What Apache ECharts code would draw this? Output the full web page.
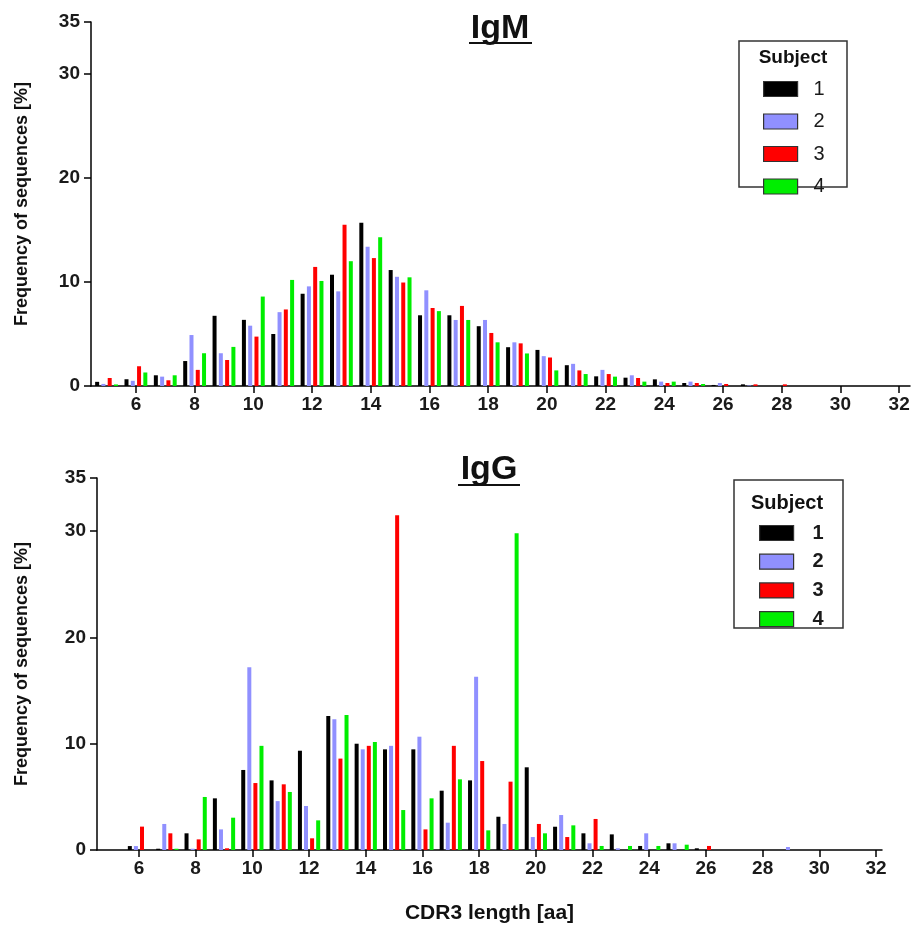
<!DOCTYPE html>
<html><head><meta charset="utf-8">
<script src="https://cdn.jsdelivr.net/npm/echarts@6/dist/echarts.min.js"></script>
<style>html,body{margin:0;padding:0;background:#fff}#c{width:914px;height:932px}</style>
</head><body><div id="c"></div>
<script>
// ---- data ----
const lengths = [5,6,7,8,9,10,11,12,13,14,15,16,17,18,19,20,21,22,23,24,25,26,27,28,29,30,31,32];
const xTickValues = [6,8,10,12,14,16,18,20,22,24,26,28,30,32];
const yTickValues = [0,10,20,30,35];
const subjects = ['1','2','3','4'];
const subjectColors = ['#000000','#9090ff','#ff0000','#00ee00'];

// IgM, frequency of sequences [%], per CDR3 length
const igmS1 = [0.4,0.65,1.03,2.4,6.75,6.36,5.0,8.87,10.7,15.7,11.15,6.8,6.8,5.75,3.73,3.47,2.0,0.93,0.8,0.64,0.29,0.1,0.16,0,0,0,0,0];
const igmS2 = [0.2,0.5,0.9,4.9,3.15,5.8,7.1,9.58,9.1,13.4,10.5,9.2,6.35,6.35,4.2,2.87,2.13,1.55,1.03,0.42,0.42,0.29,0.05,0,0,0,0,0];
const igmS3 = [0.77,1.9,0.55,1.55,2.5,4.75,7.36,11.45,15.5,12.3,9.95,7.5,7.7,5.1,4.1,2.74,1.5,1.15,0.77,0.29,0.29,0.19,0.16,0.16,0,0,0,0];
const igmS4 = [0.15,1.3,1.03,3.15,3.76,8.6,10.2,10.1,12.0,14.3,10.45,7.2,6.35,4.2,3.13,1.5,1.15,0.9,0.42,0.42,0.19,0,0,0,0,0,0,0];

// IgG
const iggS1 = [0,0.37,0.12,1.57,4.86,7.53,6.55,9.34,12.6,10.0,9.47,9.47,5.58,6.55,3.13,7.78,2.19,1.57,1.47,0.38,0.63,0.16,0,0,0,0,0,0];
const iggS2 = [0,0.37,2.45,0.12,1.94,17.2,4.6,4.14,12.3,9.47,9.8,10.66,2.57,16.3,2.45,1.22,3.29,0.63,0.16,1.57,0.63,0,0,0,0.28,0,0,0];
const iggS3 = [0,2.2,1.57,1.0,0.16,6.3,6.18,1.1,8.6,9.8,31.5,1.94,9.8,8.37,6.43,2.45,1.22,2.92,0,0,0,0.38,0,0,0,0,0,0];
const iggS4 = [0,0,0.12,4.99,3.04,9.8,5.46,2.79,12.7,10.16,3.76,4.86,6.65,1.85,29.8,1.57,2.32,0.38,0.38,0.38,0.5,0,0,0,0,0,0,0];

const igmSeries = [igmS1, igmS2, igmS3, igmS4];
const iggSeries = [iggS1, iggS2, iggS3, iggS4];

// ---- chart ----
const FONT = '"Liberation Sans", Arial, sans-serif';
const chart = echarts.init(document.getElementById('c'), null, {renderer: 'canvas'});

function xAxisDef(gridIndex, min, max, extra) {
  return Object.assign({
    type: 'value', gridIndex: gridIndex, min: min, max: max, position: 'bottom',
    axisLine: {show: true, onZero: false, lineStyle: {color: '#000', width: 1.5}},
    axisTick: {show: true, length: 7, lineStyle: {color: '#000', width: 1.5}, customValues: xTickValues},
    axisLabel: {customValues: xTickValues, margin: 9, fontSize: 19, fontWeight: 'bold', fontFamily: FONT, color: '#1a1a1a'},
    splitLine: {show: false}
  }, extra || {});
}
function yAxisDef(gridIndex, nameGap) {
  return {
    type: 'value', gridIndex: gridIndex, min: 0, max: 35, position: 'left',
    name: 'Frequency of sequences [%]', nameLocation: 'middle', nameGap: nameGap,
    nameTextStyle: {fontSize: 18, fontWeight: 'bold', fontFamily: FONT, color: '#111'},
    axisLine: {show: true, lineStyle: {color: '#000', width: 1.5}},
    axisTick: {show: true, length: 7, lineStyle: {color: '#000', width: 1.5}, customValues: yTickValues},
    axisLabel: {customValues: yTickValues, margin: 11, fontSize: 19, fontWeight: 'bold', fontFamily: FONT, color: '#1a1a1a'},
    splitLine: {show: false}
  };
}

const series = [];
[igmSeries, iggSeries].forEach(function (group, gi) {
  group.forEach(function (vals, si) {
    series.push({
      type: 'bar', name: subjects[si],
      xAxisIndex: gi, yAxisIndex: gi,
      barWidth: 4, barGap: gi === 0 ? '57%' : '52%',
      itemStyle: {color: subjectColors[si]},
      data: lengths.map(function (l, i) { return [l, vals[i]]; })
    });
  });
});

function legendDef(left, top, gap, bold, pad) {
  return {
    orient: 'vertical', left: left, top: top, padding: 0,
    itemWidth: 34, itemHeight: 15, itemGap: gap,
    icon: 'rect', selectedMode: false,
    itemStyle: {borderColor: '#333', borderWidth: 1.2},
    textStyle: {fontSize: 20, lineHeight: 15, fontWeight: bold ? 'bold' : 'normal', fontFamily: FONT, color: '#1a1a1a', padding: [0, 0, 0, pad]},
    data: subjects.slice()
  };
}

chart.setOption({
  animation: false,
  backgroundColor: '#fff',
  grid: [
    {left: 91, top: 22, width: 819, height: 364},
    {left: 97, top: 478, width: 785, height: 372}
  ],
  xAxis: [
    xAxisDef(0, 4.47, 32.37),
    xAxisDef(1, 4.52, 32.21, {name: 'CDR3 length [aa]', nameLocation: 'middle', nameGap: 53,
      nameTextStyle: {fontSize: 21, fontWeight: 'bold', fontFamily: FONT, color: '#111'}})
  ],
  yAxis: [yAxisDef(0, 60), yAxisDef(1, 66)],
  legend: [legendDef(763, 79, 12.5, false, 11), legendDef(759, 523, 8.7, true, 14)],
  graphic: [
    {type: 'text', x: 500, y: 29, style: {text: 'IgM', font: 'bold 34px ' + FONT, fill: '#111', textAlign: 'center', textVerticalAlign: 'middle'}},
    {type: 'line', shape: {x1: 469, y1: 43, x2: 532, y2: 43}, style: {stroke: '#111', lineWidth: 2}},
    {type: 'text', x: 489, y: 470, style: {text: 'IgG', font: 'bold 34px ' + FONT, fill: '#111', textAlign: 'center', textVerticalAlign: 'middle'}},
    {type: 'line', shape: {x1: 458, y1: 485, x2: 520, y2: 485}, style: {stroke: '#111', lineWidth: 2}},
    {type: 'rect', shape: {x: 739, y: 41, width: 108, height: 146}, style: {fill: 'none', stroke: '#333', lineWidth: 1.5}},
    {type: 'text', x: 793, y: 58, style: {text: 'Subject', font: 'bold 19px ' + FONT, fill: '#111', textAlign: 'center', textVerticalAlign: 'middle'}},
    {type: 'rect', shape: {x: 734, y: 480, width: 109, height: 148}, style: {fill: 'none', stroke: '#333', lineWidth: 1.5}},
    {type: 'text', x: 787, y: 503, style: {text: 'Subject', font: 'bold 20px ' + FONT, fill: '#111', textAlign: 'center', textVerticalAlign: 'middle'}}
  ],
  series: series
});
</script>
</body></html>
